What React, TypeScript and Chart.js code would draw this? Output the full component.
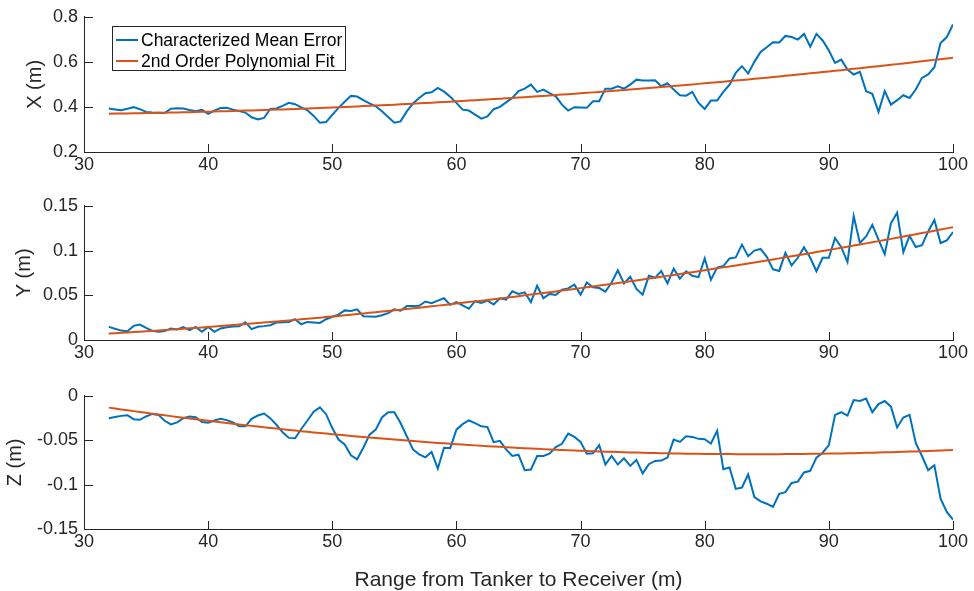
import React, { useEffect, useRef } from "react";
import { Chart, registerables } from "chart.js";

Chart.register(...registerables);

// ---------------- data ----------------
const ranges = [
  32, 32.5, 33, 33.5, 34, 34.5, 35, 35.5, 36, 36.5,
  37, 37.5, 38, 38.5, 39, 39.5, 40, 40.5, 41, 41.5,
  42, 42.5, 43, 43.5, 44, 44.5, 45, 45.5, 46, 46.5,
  47, 47.5, 48, 48.5, 49, 49.5, 50, 50.5, 51, 51.5,
  52, 52.5, 53, 53.5, 54, 54.5, 55, 55.5, 56, 56.5,
  57, 57.5, 58, 58.5, 59, 59.5, 60, 60.5, 61, 61.5,
  62, 62.5, 63, 63.5, 64, 64.5, 65, 65.5, 66, 66.5,
  67, 67.5, 68, 68.5, 69, 69.5, 70, 70.5, 71, 71.5,
  72, 72.5, 73, 73.5, 74, 74.5, 75, 75.5, 76, 76.5,
  77, 77.5, 78, 78.5, 79, 79.5, 80, 80.5, 81, 81.5,
  82, 82.5, 83, 83.5, 84, 84.5, 85, 85.5, 86, 86.5,
  87, 87.5, 88, 88.5, 89, 89.5, 90, 90.5, 91, 91.5,
  92, 92.5, 93, 93.5, 94, 94.5, 95, 95.5, 96, 96.5,
  97, 97.5, 98, 98.5, 99, 99.5, 100,
];

const xError = [
  0.393, 0.389, 0.385, 0.392, 0.399, 0.39, 0.378, 0.375, 0.374, 0.373,
  0.392, 0.394, 0.393, 0.386, 0.381, 0.387, 0.369, 0.384, 0.395, 0.396,
  0.388, 0.382, 0.375, 0.354, 0.344, 0.351, 0.391, 0.393, 0.405, 0.418,
  0.412, 0.398, 0.385, 0.36, 0.33, 0.333, 0.365, 0.396, 0.423, 0.449,
  0.446, 0.43, 0.416, 0.403, 0.381, 0.355, 0.33, 0.336, 0.38, 0.415,
  0.44, 0.461, 0.465, 0.484, 0.468, 0.445, 0.418, 0.388, 0.384, 0.366,
  0.348, 0.358, 0.39, 0.4, 0.42, 0.44, 0.47, 0.481, 0.499, 0.467,
  0.477, 0.461, 0.447, 0.41, 0.384, 0.399, 0.398, 0.396, 0.425, 0.425,
  0.481, 0.481, 0.492, 0.481, 0.499, 0.521, 0.517, 0.517, 0.518, 0.492,
  0.505, 0.477, 0.452, 0.45, 0.467, 0.418, 0.391, 0.428, 0.428, 0.467,
  0.499, 0.551, 0.581, 0.548, 0.6, 0.644, 0.665, 0.687, 0.686, 0.715,
  0.71, 0.699, 0.724, 0.667, 0.724, 0.695, 0.65, 0.595, 0.61, 0.566,
  0.544, 0.556, 0.47, 0.458, 0.378, 0.47, 0.41, 0.43, 0.452, 0.44,
  0.477, 0.529, 0.544, 0.576, 0.684, 0.71, 0.766,
];

const yError = [
  0.0147, 0.0125, 0.0105, 0.0099, 0.0158, 0.0173, 0.0136, 0.0103, 0.0092, 0.0099,
  0.0129, 0.0118, 0.0143, 0.011, 0.0147, 0.0092, 0.0147, 0.0092, 0.0129, 0.0143,
  0.015, 0.0154, 0.0199, 0.0121, 0.0147, 0.0155, 0.0165, 0.0195, 0.0198, 0.0202,
  0.0232, 0.0176, 0.0202, 0.0196, 0.0191, 0.0232, 0.026, 0.0283, 0.0331, 0.0324,
  0.0342, 0.0265, 0.0263, 0.0261, 0.0276, 0.0301, 0.0342, 0.0327, 0.0379, 0.0379,
  0.0382, 0.043, 0.0412, 0.044, 0.0467, 0.0393, 0.0423, 0.0386, 0.0349, 0.0434,
  0.0415, 0.0441, 0.0397, 0.0467, 0.0452, 0.0544, 0.0515, 0.0533, 0.0423, 0.0607,
  0.0467, 0.0515, 0.0504, 0.0562, 0.0577, 0.0618, 0.0507, 0.0643, 0.0588, 0.0581,
  0.054, 0.0643, 0.0779, 0.0632, 0.0706, 0.057, 0.0507, 0.0717, 0.0695, 0.0772,
  0.0632, 0.0798, 0.0687, 0.0768, 0.0717, 0.0702, 0.0912, 0.0673, 0.0809, 0.0827,
  0.0912, 0.0923, 0.1066, 0.0937, 0.1, 0.1018, 0.093, 0.079, 0.0772, 0.0974,
  0.0834, 0.0919, 0.1037, 0.0919, 0.0768, 0.0919, 0.0919, 0.114, 0.1037, 0.0871,
  0.1386, 0.1084, 0.1158, 0.1287, 0.1121, 0.0959, 0.1305, 0.1423, 0.0982, 0.1165,
  0.104, 0.1059, 0.1213, 0.1342, 0.1084, 0.1114, 0.1206,
];

const zError = [
  -0.0252, -0.0238, -0.0226, -0.0219, -0.0263, -0.027, -0.0233, -0.0204, -0.0215, -0.0281,
  -0.0322, -0.03, -0.0252, -0.0233, -0.0241, -0.0296, -0.0304, -0.0278, -0.0259, -0.0274,
  -0.03, -0.0344, -0.0344, -0.0259, -0.0222, -0.02, -0.0252, -0.0326, -0.0411, -0.0474,
  -0.0478, -0.0374, -0.0278, -0.0178, -0.013, -0.0207, -0.0363, -0.0493, -0.0548, -0.067,
  -0.0715, -0.0585, -0.0437, -0.0381, -0.0244, -0.0185, -0.0185, -0.0307, -0.0456, -0.0604,
  -0.0659, -0.0693, -0.0633, -0.0819, -0.0585, -0.0589, -0.0381, -0.0319, -0.0278, -0.0307,
  -0.0344, -0.0352, -0.0522, -0.0507, -0.0604, -0.0678, -0.0663, -0.0837, -0.083, -0.0678,
  -0.0678, -0.0652, -0.0578, -0.0541, -0.0426, -0.0463, -0.0519, -0.0652, -0.0648, -0.0556,
  -0.0774, -0.0678, -0.0774, -0.0704, -0.0789, -0.0722, -0.0874, -0.077, -0.0733, -0.073,
  -0.0696, -0.0493, -0.0519, -0.0456, -0.0463, -0.0485, -0.0489, -0.0537, -0.0393, -0.0826,
  -0.0807, -0.1048, -0.1033, -0.0885, -0.1141, -0.1189, -0.1215, -0.1252, -0.1104, -0.1085,
  -0.0982, -0.0967, -0.0863, -0.0845, -0.0696, -0.0641, -0.0556, -0.0215, -0.0185, -0.0222,
  -0.0048, -0.0059, -0.003, -0.0185, -0.0093, -0.0059, -0.0122, -0.0356, -0.0244, -0.0215,
  -0.053, -0.0678, -0.0837, -0.0782, -0.1159, -0.1307, -0.1393,
];

const rangeTicks = [30, 40, 50, 60, 70, 80, 90, 100];
const xPanelTicks = [0.2, 0.4, 0.6, 0.8];
const yPanelTicks = [0, 0.05, 0.1, 0.15];
const zPanelTicks = [-0.15, -0.1, -0.05, 0];

const seriesLabels = ["Characterized Mean Error", "2nd Order Polynomial Fit"];
const panelTitles = ["X (m)", "Y (m)", "Z (m)"];
const rangeTitle = "Range from Tanker to Receiver (m)";

// ---------------- styling ----------------
const BLUE = "#0072BD";
const ORANGE = "#D95319";
const AXIS = "#262626";
const FONT = "'Liberation Sans', Arial, Helvetica, sans-serif";

// least-squares 2nd order polynomial fit of the series
function polyfit2(xs: number[], ys: number[]) {
  const n = xs.length;
  const xm = xs.reduce((a, b) => a + b, 0) / n;
  const S = [0, 0, 0, 0, 0];
  const T = [0, 0, 0];
  for (let i = 0; i < n; i++) {
    const d = xs[i] - xm;
    let p = 1;
    for (let k = 0; k <= 4; k++) {
      S[k] += p;
      if (k <= 2) T[k] += ys[i] * p;
      p *= d;
    }
  }
  const A = [
    [S[0], S[1], S[2], T[0]],
    [S[1], S[2], S[3], T[1]],
    [S[2], S[3], S[4], T[2]],
  ];
  for (let c = 0; c < 3; c++) {
    for (let r = c + 1; r < 3; r++) {
      const f = A[r][c] / A[c][c];
      for (let k = c; k < 4; k++) A[r][k] -= f * A[c][k];
    }
  }
  const coef = [0, 0, 0];
  for (let r = 2; r >= 0; r--) {
    let s = A[r][3];
    for (let k = r + 1; k < 3; k++) s -= A[r][k] * coef[k];
    coef[r] = s / A[r][r];
  }
  return (x: number) => {
    const d = x - xm;
    return coef[0] + coef[1] * d + coef[2] * d * d;
  };
}

const inwardTicks = {
  id: "inwardTicks",
  afterDraw(chart: any) {
    const { ctx, chartArea, scales } = chart;
    ctx.save();
    ctx.strokeStyle = AXIS;
    ctx.lineWidth = 1;
    ctx.beginPath();
    scales.x.ticks.forEach((t: any) => {
      const px = Math.round(scales.x.getPixelForValue(t.value)) + 0.5;
      ctx.moveTo(px, chartArea.bottom);
      ctx.lineTo(px, chartArea.bottom - 8);
    });
    scales.y.ticks.forEach((t: any) => {
      const py = Math.round(scales.y.getPixelForValue(t.value)) + 0.5;
      ctx.moveTo(chartArea.left, py);
      ctx.lineTo(chartArea.left + 9, py);
    });
    ctx.stroke();
    ctx.restore();
  },
};

type PanelCfg = {
  values: number[];
  ticks: number[];
  title: string;
  top: number;
  height: number;
  xAxisHeight: number;
  titlePad: number;
  showRangeTitle: boolean;
};

const fmt = (v: number) => String(Number(v.toFixed(4)));

function Panel({ cfg }: { cfg: PanelCfg }) {
  const ref = useRef<HTMLCanvasElement>(null);
  useEffect(() => {
    if (!ref.current) return;
    const fit = polyfit2(ranges, cfg.values);
    const measured = ranges.map((x, i) => ({ x, y: cfg.values[i] }));
    const fitted = ranges.map((x) => ({ x, y: fit(x) }));
    const chart = new Chart(ref.current, {
      type: "line",
      data: {
        datasets: [
          {
            label: seriesLabels[0],
            data: measured,
            borderColor: BLUE,
            backgroundColor: BLUE,
            borderWidth: 2,
            pointRadius: 0,
            tension: 0,
            order: 1,
          },
          {
            label: seriesLabels[1],
            data: fitted,
            borderColor: ORANGE,
            backgroundColor: ORANGE,
            borderWidth: 2,
            pointRadius: 0,
            tension: 0,
            order: 0,
          },
        ],
      },
      options: {
        animation: false,
        responsive: false,
        devicePixelRatio: 1,
        layout: { padding: { top: 15, right: 21, left: 0, bottom: 0 } },
        plugins: { legend: { display: false }, tooltip: { enabled: false } },
        scales: {
          x: {
            type: "linear",
            min: 30,
            max: 100,
            afterFit: (s: any) => {
              s.height = cfg.xAxisHeight;
            },
            afterBuildTicks: (s: any) => {
              s.ticks = rangeTicks.map((v) => ({ value: v }));
            },
            grid: { display: false, drawTicks: false },
            border: { display: true, color: AXIS, width: 1 },
            ticks: {
              color: AXIS,
              padding: 2,
              maxRotation: 0,
              autoSkip: false,
              font: { family: FONT, size: 18 },
              callback: (v: any) => fmt(Number(v)),
            },
            title: {
              display: cfg.showRangeTitle,
              text: rangeTitle,
              color: AXIS,
              font: { family: FONT, size: 21, lineHeight: 1 },
              padding: { top: 0, bottom: 0 },
            },
          },
          y: {
            type: "linear",
            min: cfg.ticks[0],
            max: cfg.ticks[cfg.ticks.length - 1],
            afterFit: (s: any) => {
              s.width = 84;
            },
            afterBuildTicks: (s: any) => {
              s.ticks = cfg.ticks.map((v) => ({ value: v }));
            },
            grid: { display: false, drawTicks: false },
            border: { display: true, color: AXIS, width: 1 },
            ticks: {
              color: AXIS,
              padding: 6,
              autoSkip: false,
              font: { family: FONT, size: 18 },
              callback: (v: any) => fmt(Number(v)),
            },
            title: {
              display: true,
              text: cfg.title,
              color: AXIS,
              font: { family: FONT, size: 20, lineHeight: 1 },
              padding: { top: cfg.titlePad, bottom: 0 },
            },
          },
        },
      },
      plugins: [inwardTicks],
    } as any);
    return () => chart.destroy();
  }, []);
  return (
    <canvas
      ref={ref}
      width={974}
      height={cfg.height}
      style={{ position: "absolute", left: 0, top: cfg.top, width: 974, height: cfg.height }}
    />
  );
}

const panels: PanelCfg[] = [
  { values: xError, ticks: xPanelTicks, title: panelTitles[0], top: 0, height: 190, xAxisHeight: 38, titlePad: 25, showRangeTitle: false },
  { values: yError, ticks: yPanelTicks, title: panelTitles[1], top: 189, height: 190, xAxisHeight: 39, titlePad: 14, showRangeTitle: false },
  { values: zError, ticks: zPanelTicks, title: panelTitles[2], top: 379, height: 212, xAxisHeight: 62, titlePad: 5, showRangeTitle: true },
];

function Legend() {
  const row = (label: string, color: string, center: number) => (
    <div
      style={{
        position: "absolute",
        left: 0,
        top: center - 11,
        height: 22,
        display: "flex",
        alignItems: "center",
        whiteSpace: "nowrap",
      }}
    >
      <span style={{ display: "inline-block", width: 22, height: 2, background: color, marginLeft: 3, marginRight: 3 }} />
      <span style={{ fontFamily: FONT, fontSize: 17.5, color: "#000" }}>{label}</span>
    </div>
  );
  return (
    <div
      style={{
        position: "absolute",
        left: 112,
        top: 26,
        width: 234,
        height: 45,
        border: `1px solid ${AXIS}`,
        background: "#fff",
        boxSizing: "border-box",
      }}
    >
      {row(seriesLabels[0], BLUE, 13)}
      {row(seriesLabels[1], ORANGE, 34)}
    </div>
  );
}

export default function App() {
  return (
    <div style={{ position: "absolute", left: 0, top: 0, width: 974, height: 591, background: "#fff", overflow: "hidden" }}>
      {panels.map((p, i) => (
        <Panel key={i} cfg={p} />
      ))}
      <Legend />
    </div>
  );
}
